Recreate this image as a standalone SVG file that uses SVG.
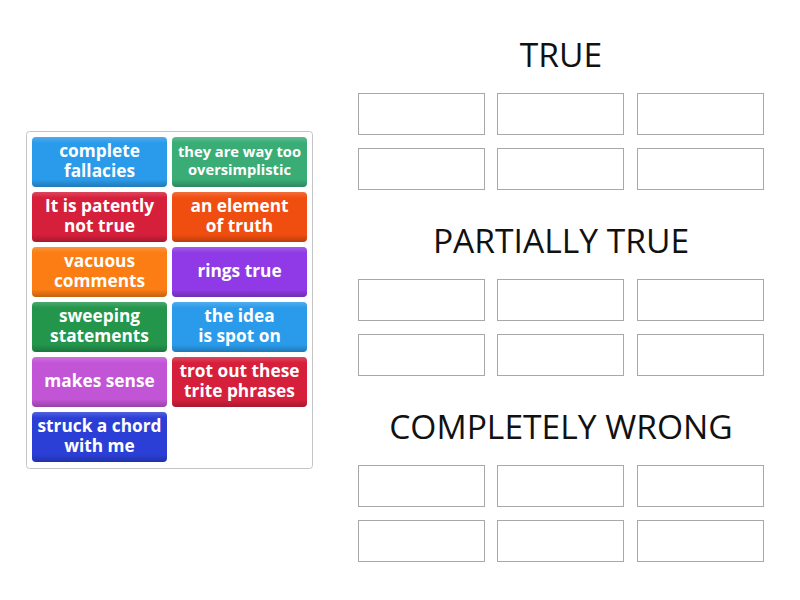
<svg xmlns="http://www.w3.org/2000/svg" width="800" height="600" viewBox="0 0 800 600">
<defs>
<linearGradient id="shade" x1="0" y1="0" x2="0" y2="1">
<stop offset="0" stop-color="#fff" stop-opacity="0.18"/>
<stop offset="0.12" stop-color="#fff" stop-opacity="0"/>
<stop offset="0.85" stop-color="#000" stop-opacity="0"/>
<stop offset="1" stop-color="#000" stop-opacity="0.22"/>
</linearGradient>
</defs>
<style>
.tile text{font-family:"Open Sans","Liberation Sans",sans-serif;font-weight:bold;font-size:17.3px;fill:#fff;text-anchor:middle}
.tile text.sm{font-size:14.7px}
.sh{fill:url(#shade)}
.slot{fill:#fff;stroke:#a8a8a8;stroke-width:1}
.head{font-family:"Open Sans","Liberation Sans",sans-serif;font-size:33.6px;fill:#111;text-anchor:middle}
</style>
<rect width="800" height="600" fill="#fff"/>
<rect x="26.5" y="131.5" width="286" height="337" rx="3" fill="#fff" stroke="#c4c4c4"/>
<g id="t1" class="tile"><rect x="32" y="137" width="135" height="50" rx="4" fill="#2a9bea"/><rect class="sh" x="32" y="137" width="135" height="50" rx="4"/><text x="99.5" y="157">complete</text><text x="99.5" y="177">fallacies</text></g>
<g id="t2" class="tile"><rect x="172" y="137" width="135" height="50" rx="4" fill="#3aad76"/><rect class="sh" x="172" y="137" width="135" height="50" rx="4"/><text class="sm" x="239.5" y="157">they are way too</text><text class="sm" x="239.5" y="175">oversimplistic</text></g>
<g id="t3" class="tile"><rect x="32" y="192" width="135" height="50" rx="4" fill="#d61f3b"/><rect class="sh" x="32" y="192" width="135" height="50" rx="4"/><text x="99.5" y="212">It is patently</text><text x="99.5" y="232">not true</text></g>
<g id="t4" class="tile"><rect x="172" y="192" width="135" height="50" rx="4" fill="#f04e10"/><rect class="sh" x="172" y="192" width="135" height="50" rx="4"/><text x="239.5" y="212">an element</text><text x="239.5" y="232">of truth</text></g>
<g id="t5" class="tile"><rect x="32" y="247" width="135" height="50" rx="4" fill="#fb7d14"/><rect class="sh" x="32" y="247" width="135" height="50" rx="4"/><text x="99.5" y="267">vacuous</text><text x="99.5" y="287">comments</text></g>
<g id="t6" class="tile"><rect x="172" y="247" width="135" height="50" rx="4" fill="#8f3ae6"/><rect class="sh" x="172" y="247" width="135" height="50" rx="4"/><text x="239.5" y="277">rings true</text></g>
<g id="t7" class="tile"><rect x="32" y="302" width="135" height="50" rx="4" fill="#23964c"/><rect class="sh" x="32" y="302" width="135" height="50" rx="4"/><text x="99.5" y="322">sweeping</text><text x="99.5" y="342">statements</text></g>
<g id="t8" class="tile"><rect x="172" y="302" width="135" height="50" rx="4" fill="#2a9bea"/><rect class="sh" x="172" y="302" width="135" height="50" rx="4"/><text x="239.5" y="322">the idea</text><text x="239.5" y="342">is spot on</text></g>
<g id="t9" class="tile"><rect x="32" y="357" width="135" height="50" rx="4" fill="#c254d6"/><rect class="sh" x="32" y="357" width="135" height="50" rx="4"/><text x="99.5" y="387">makes sense</text></g>
<g id="t10" class="tile"><rect x="172" y="357" width="135" height="50" rx="4" fill="#d61f3b"/><rect class="sh" x="172" y="357" width="135" height="50" rx="4"/><text x="239.5" y="377">trot out these</text><text x="239.5" y="397">trite phrases</text></g>
<g id="t11" class="tile"><rect x="32" y="412" width="135" height="50" rx="4" fill="#2b3fd6"/><rect class="sh" x="32" y="412" width="135" height="50" rx="4"/><text x="99.5" y="432">struck a chord</text><text x="99.5" y="452">with me</text></g>

<g id="sec-true">
<text class="head" x="561" y="67">TRUE</text>
<rect class="slot" x="358.5" y="93.5" width="126" height="41"/><rect class="slot" x="497.5" y="93.5" width="126" height="41"/><rect class="slot" x="637.5" y="93.5" width="126" height="41"/>
<rect class="slot" x="358.5" y="148.5" width="126" height="41"/><rect class="slot" x="497.5" y="148.5" width="126" height="41"/><rect class="slot" x="637.5" y="148.5" width="126" height="41"/>
</g>
<g id="sec-partial">
<text class="head" x="561" y="253">PARTIALLY TRUE</text>
<rect class="slot" x="358.5" y="279.5" width="126" height="41"/><rect class="slot" x="497.5" y="279.5" width="126" height="41"/><rect class="slot" x="637.5" y="279.5" width="126" height="41"/>
<rect class="slot" x="358.5" y="334.5" width="126" height="41"/><rect class="slot" x="497.5" y="334.5" width="126" height="41"/><rect class="slot" x="637.5" y="334.5" width="126" height="41"/>
</g>
<g id="sec-wrong">
<text class="head" x="561" y="439">COMPLETELY WRONG</text>
<rect class="slot" x="358.5" y="465.5" width="126" height="41"/><rect class="slot" x="497.5" y="465.5" width="126" height="41"/><rect class="slot" x="637.5" y="465.5" width="126" height="41"/>
<rect class="slot" x="358.5" y="520.5" width="126" height="41"/><rect class="slot" x="497.5" y="520.5" width="126" height="41"/><rect class="slot" x="637.5" y="520.5" width="126" height="41"/>
</g>
<g id="connectors"/>
</svg>
